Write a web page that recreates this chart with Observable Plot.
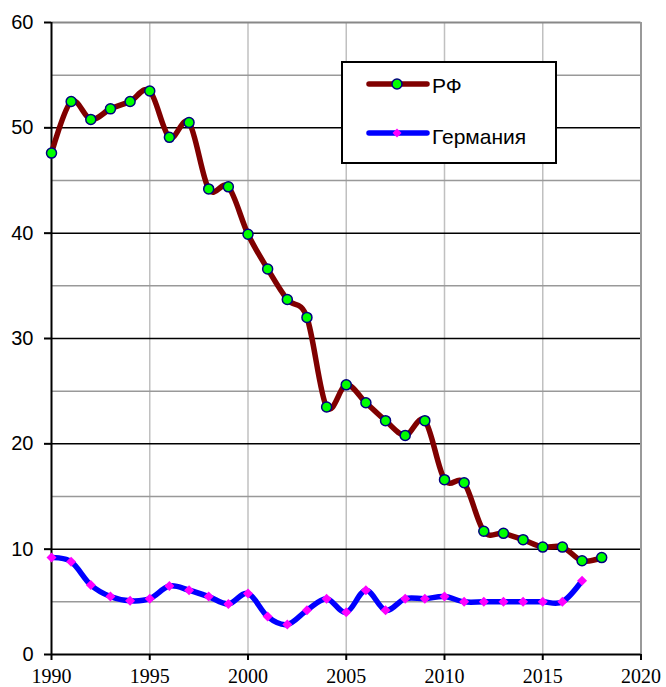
<!DOCTYPE html>
<html>
<head>
<meta charset="utf-8">
<script src="https://cdn.jsdelivr.net/npm/d3@7"></script>
<script src="https://cdn.jsdelivr.net/npm/@observablehq/plot@0.6"></script>
<style>
  html, body { margin: 0; padding: 0; background: #fff; }
  #wrap { position: relative; width: 666px; height: 687px; }
  #legend { position: absolute; left: 0; top: 0; }
</style>
</head>
<body>
<div id="wrap"></div>
<script>
const yearsRF = [1990,1991,1992,1993,1994,1995,1996,1997,1998,1999,2000,2001,2002,2003,2004,2005,2006,2007,2008,2009,2010,2011,2012,2013,2014,2015,2016,2017,2018];
const valuesRF = [47.6,52.5,50.8,51.8,52.5,53.5,49.1,50.5,44.2,44.4,39.9,36.6,33.7,32.0,23.5,25.6,23.9,22.2,20.8,22.2,16.6,16.3,11.7,11.5,10.9,10.2,10.2,8.9,9.2];
const yearsDE = [1990,1991,1992,1993,1994,1995,1996,1997,1998,1999,2000,2001,2002,2003,2004,2005,2006,2007,2008,2009,2010,2011,2012,2013,2014,2015,2016,2017];
const valuesDE = [9.2,8.8,6.6,5.5,5.1,5.3,6.5,6.1,5.5,4.8,5.8,3.6,2.85,4.2,5.3,4.0,6.1,4.2,5.3,5.3,5.5,5.0,5.0,5.0,5.0,5.0,5.0,7.0];
const seriesNames = ["РФ", "Германия"];
const xTicks = [1990,1995,2000,2005,2010,2015,2020];
const yTicks = [0,10,20,30,40,50,60];
const yMinor = [5,15,25,35,45,55];

const rf = yearsRF.map((y, i) => ({year: y, value: valuesRF[i]}));
const de = yearsDE.map((y, i) => ({year: y, value: valuesDE[i]}));

const chart = Plot.plot({
  width: 666,
  height: 687,
  marginLeft: 51,
  marginRight: 25.5,
  marginTop: 22,
  marginBottom: 33,
  style: {background: "#fff", color: "#000", overflow: "visible"},
  x: {domain: [1990, 2020]},
  y: {domain: [0, 60]},
  marks: [
    Plot.gridX(xTicks.slice(1, -1), {stroke: "#c0c0c0", strokeOpacity: 1, strokeWidth: 1.5}),
    Plot.gridY(yMinor, {stroke: "#999", strokeOpacity: 1, strokeWidth: 1.5}),
    Plot.gridY([10,20,30,40,50], {stroke: "#000", strokeOpacity: 1, strokeWidth: 1.5}),
    Plot.ruleY([60], {stroke: "#888", strokeWidth: 2}),
    Plot.ruleX([2020], {stroke: "#999", strokeWidth: 2}),
    Plot.axisY({ticks: yTicks, tickSize: 7, tickPadding: 11, fontSize: 20, fontFamily: "Liberation Sans, Arial, sans-serif", strokeWidth: 2, label: null}),
    Plot.axisX({ticks: xTicks, tickFormat: "d", tickSize: 6, tickPadding: 8, fontSize: 20, fontFamily: "Liberation Serif, Times New Roman, serif", strokeWidth: 2, label: null}),
    Plot.ruleX([1990], {stroke: "#000", strokeWidth: 2}),
    Plot.ruleY([0], {stroke: "#000", strokeWidth: 2}),
    Plot.line(rf, {x: "year", y: "value", stroke: "#800000", strokeWidth: 5.5, curve: "cardinal"}),
    Plot.line(de, {x: "year", y: "value", stroke: "#0000ff", strokeWidth: 5.5, curve: "cardinal"}),
    Plot.dot(rf, {x: "year", y: "value", r: 5, fill: "#00ff00", stroke: "#000080", strokeWidth: 1.5}),
    Plot.dot(de, {x: "year", y: "value", r: 4.5, symbol: "diamond2", fill: "#ff00ff", stroke: "none"})
  ]
});

const wrap = document.getElementById("wrap");
wrap.appendChild(chart);

// Legend overlay
const ns = "http://www.w3.org/2000/svg";
const leg = document.createElementNS(ns, "svg");
leg.setAttribute("id", "legend");
leg.setAttribute("width", 666);
leg.setAttribute("height", 687);
leg.innerHTML = `
  <rect x="342" y="62" width="214" height="101" fill="#fff" stroke="#000" stroke-width="2"/>
  <line x1="369" y1="84" x2="427" y2="84" stroke="#800000" stroke-width="5.5" stroke-linecap="round"/>
  <circle cx="397" cy="84" r="5" fill="#00ff00" stroke="#000080" stroke-width="1.5"/>
  <text x="432" y="93" font-family="Liberation Sans, Arial, sans-serif" font-size="21" fill="#000">${seriesNames[0]}</text>
  <line x1="369" y1="133" x2="427" y2="133" stroke="#0000ff" stroke-width="5.5" stroke-linecap="round"/>
  <path d="M397,128.5 L401.5,133 L397,137.5 L392.5,133 Z" fill="#ff00ff"/>
  <text x="432" y="144" font-family="Liberation Sans, Arial, sans-serif" font-size="21" fill="#000">${seriesNames[1]}</text>
`;
wrap.appendChild(leg);
</script>
</body>
</html>
